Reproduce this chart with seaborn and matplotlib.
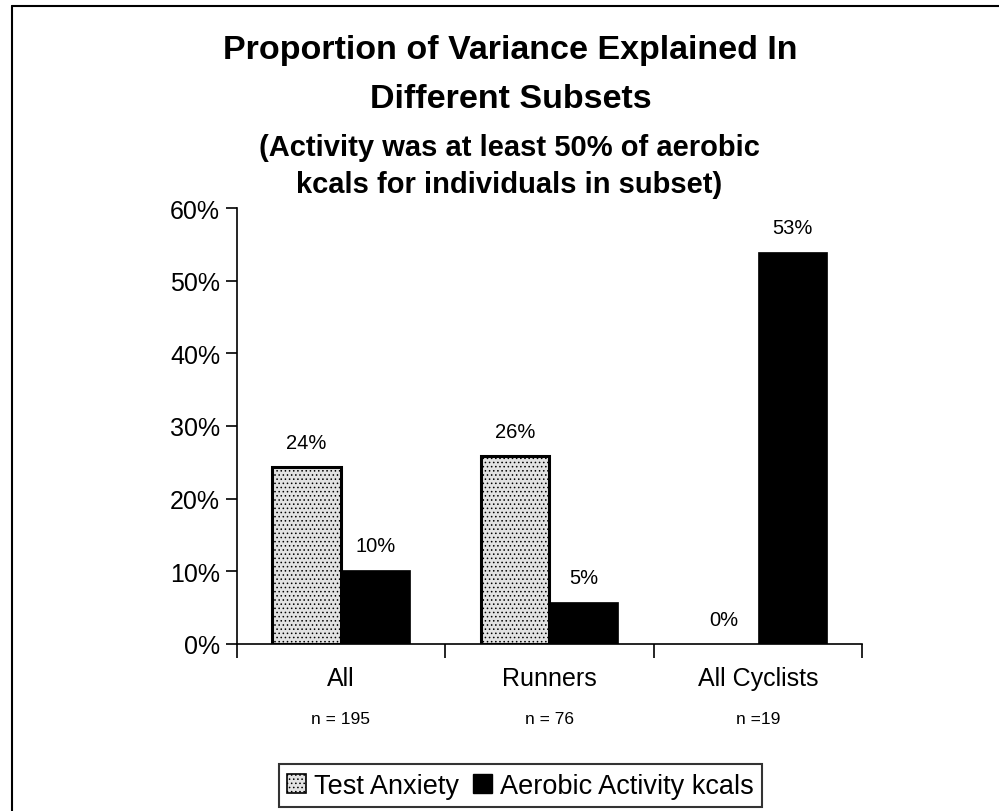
import matplotlib
matplotlib.use("Agg")
import matplotlib.pyplot as plt
import seaborn as sns
import pandas as pd
from matplotlib.lines import Line2D
from matplotlib.patches import Patch
from matplotlib.ticker import FixedLocator, FuncFormatter

categories = ["All", "Runners", "All Cyclists"]
n_labels = ["n = 195", "n = 76", "n =19"]
series_names = ["Test Anxiety", "Aerobic Activity kcals"]
test_anxiety = [0.243, 0.259, 0.0]
aerobic_kcals = [0.102, 0.058, 0.539]
ta_labels = ["24%", "26%", "0%"]
aa_labels = ["10%", "5%", "53%"]
y_ticks = [0.0, 0.1, 0.2, 0.3, 0.4, 0.5, 0.6]

df = pd.DataFrame({
    "cat": categories * 2,
    "series": [series_names[0]] * 3 + [series_names[1]] * 3,
    "value": test_anxiety + aerobic_kcals,
})

sns.set_style("white")
plt.rcParams["font.family"] = ["Liberation Sans", "DejaVu Sans"]
plt.rcParams["text.color"] = "black"
plt.rcParams["xtick.color"] = "black"
plt.rcParams["ytick.color"] = "black"
plt.rcParams["axes.labelcolor"] = "black"
plt.rcParams["hatch.color"] = "#8f8f8f"
plt.rcParams["hatch.linewidth"] = 0.6

fig = plt.figure(figsize=(9.99, 8.12), dpi=100)
ax = fig.add_axes([0.237, 0.2057, 0.626, 0.5369])

ta_color = "#e2e2e2"
sns.barplot(data=df, x="cat", y="value", hue="series", order=categories,
            hue_order=series_names, palette=[ta_color, "black"],
            width=0.66, ax=ax, legend=False, saturation=1)

# style bars
for i, bar in enumerate(ax.patches[:6]):
    if i < 3:
        bar.set_edgecolor("black")
        bar.set_linewidth(2.2 if bar.get_height() > 0 else 0)
        bar.set_hatch("....")
        bar.set_facecolor(ta_color)
    else:
        bar.set_edgecolor("black")
        bar.set_linewidth(0.5)

# data labels
for bar, lab in zip(ax.patches[:6], ta_labels + aa_labels):
    ax.annotate(lab, (bar.get_x() + bar.get_width() / 2, bar.get_height()),
                xytext=(0, 11), textcoords="offset points",
                ha="center", va="bottom", fontsize=14.5)

ax.set_ylim(0, 0.6)
ax.set_xlim(-0.5, 2.5)
ax.yaxis.set_major_locator(FixedLocator(y_ticks))
ax.yaxis.set_major_formatter(FuncFormatter(lambda v, p: f"{v*100:.0f}%"))
ax.tick_params(axis="y", which="major", direction="out", length=8, width=1.2,
               labelsize=18, pad=4, left=True)

ax.xaxis.set_major_locator(FixedLocator([-0.5, 0.5, 1.5, 2.5]))
ax.xaxis.set_major_formatter(FuncFormatter(lambda v, p: ""))
ax.xaxis.set_minor_locator(FixedLocator([0, 1, 2]))
ax.set_xticklabels(categories, minor=True)
ax.tick_params(axis="x", which="major", direction="out", length=10, width=1.2,
               bottom=True)
ax.tick_params(axis="x", which="minor", length=0, labelsize=18, pad=16)
ax.set_xlabel("")
ax.set_ylabel("")

for i, nl in enumerate(n_labels):
    ax.text(i, -0.17, nl, transform=ax.get_xaxis_transform(), ha="center",
            va="center", fontsize=12.5)

for s in ["top", "right"]:
    ax.spines[s].set_visible(False)
for s in ["left", "bottom"]:
    ax.spines[s].set_color("black")
    ax.spines[s].set_linewidth(1.2)

# titles
fig.text(0.511, 0.938, "Proportion of Variance Explained In", ha="center",
         va="center", fontsize=24.5, fontweight="bold")
fig.text(0.511, 0.877, "Different Subsets", ha="center", va="center",
         fontsize=24.5, fontweight="bold")
fig.text(0.51, 0.818, "(Activity was at least 50% of aerobic", ha="center",
         va="center", fontsize=21, fontweight="bold")
fig.text(0.51, 0.772, "kcals for individuals in subset)", ha="center",
         va="center", fontsize=21, fontweight="bold")

# legend
handles = [Patch(facecolor=ta_color, edgecolor="black", hatch="....", linewidth=1.2),
           Patch(facecolor="black", edgecolor="black")]
leg = fig.legend(handles, series_names, loc="lower center",
                 bbox_to_anchor=(0.521, 0.002), ncol=2, fontsize=19.5,
                 frameon=True, fancybox=False, handlelength=0.7,
                 handleheight=0.7, handletextpad=0.3, columnspacing=0.5,
                 borderpad=0.3, borderaxespad=0.1)
leg.get_frame().set_edgecolor("black")
leg.get_frame().set_linewidth(1.5)

# figure border (left and top)
fig.add_artist(Line2D([0.012, 0.012], [0.0, 0.991], transform=fig.transFigure,
                      color="black", linewidth=1.5))
fig.add_artist(Line2D([0.012, 1.0], [0.991, 0.991], transform=fig.transFigure,
                      color="black", linewidth=1.5))

fig.savefig("out.png", dpi=100)
